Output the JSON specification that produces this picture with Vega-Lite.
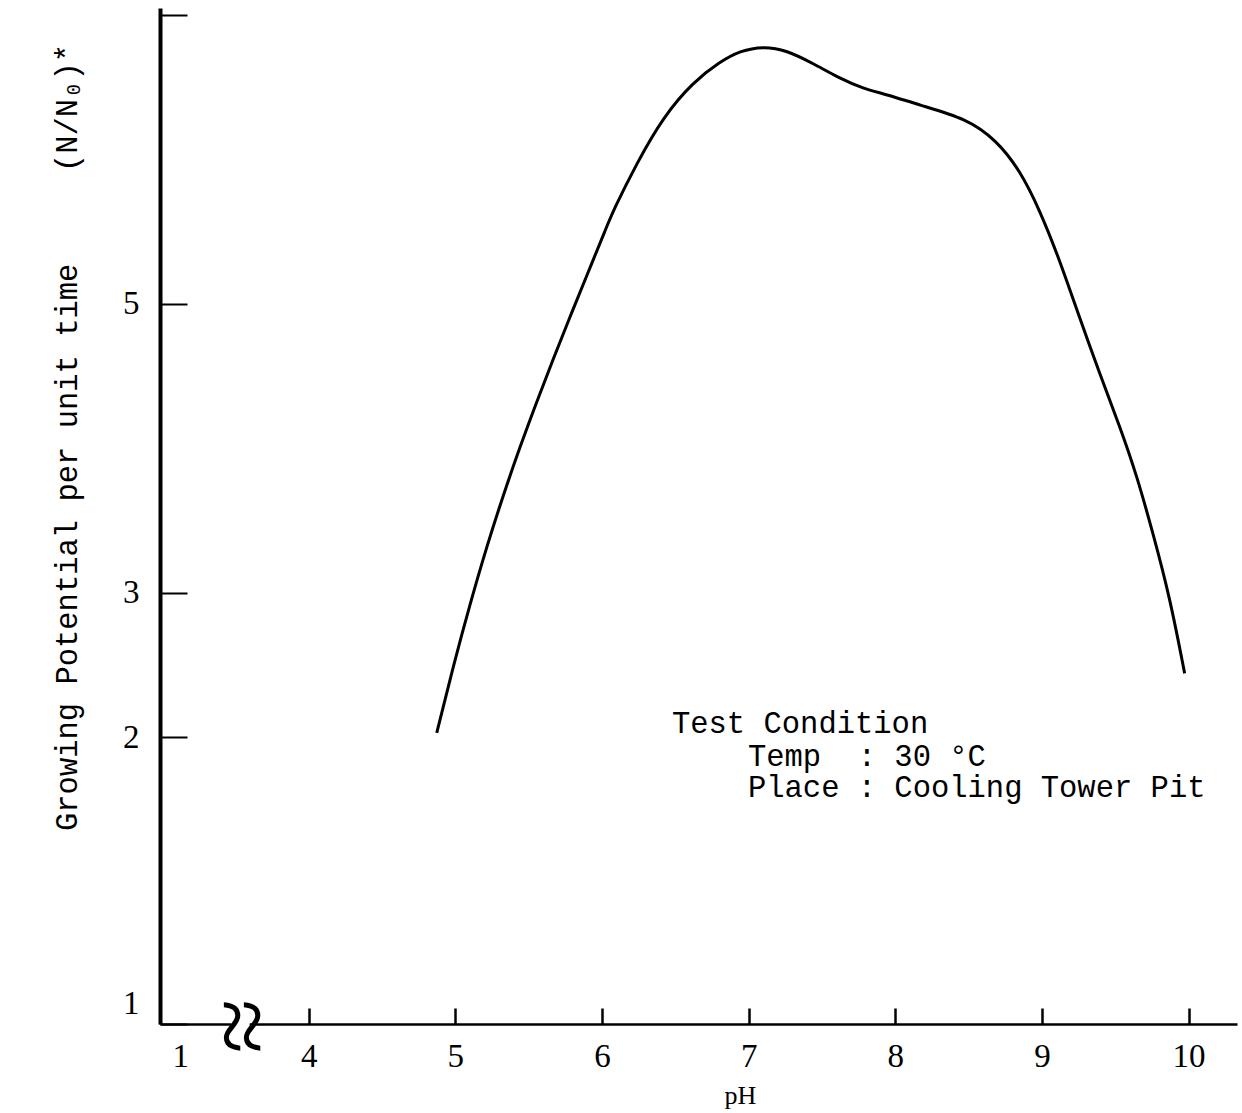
{
  "$schema": "https://vega.github.io/schema/vega-lite/v6.json",
  "width": 1077,
  "height": 1016,
  "autosize": {"type": "none"},
  "padding": {"left": 160, "top": 8, "right": 5, "bottom": 89},
  "background": "white",
  "config": {"view": {"stroke": null}},
  "layer": [
    {
      "data": {"values": [
        {"pH": 4.873, "growth": 2.028},
        {"pH": 4.986, "growth": 2.492},
        {"pH": 5.100, "growth": 2.921},
        {"pH": 5.213, "growth": 3.316},
        {"pH": 5.327, "growth": 3.676},
        {"pH": 5.440, "growth": 4.008},
        {"pH": 5.554, "growth": 4.320},
        {"pH": 5.667, "growth": 4.618},
        {"pH": 5.781, "growth": 4.909},
        {"pH": 5.895, "growth": 5.193},
        {"pH": 6.031, "growth": 5.532},
        {"pH": 6.076, "growth": 5.645},
        {"pH": 6.236, "growth": 5.973},
        {"pH": 6.417, "growth": 6.296},
        {"pH": 6.622, "growth": 6.538},
        {"pH": 6.804, "growth": 6.677},
        {"pH": 6.940, "growth": 6.753},
        {"pH": 7.099, "growth": 6.785},
        {"pH": 7.258, "growth": 6.758},
        {"pH": 7.440, "growth": 6.666},
        {"pH": 7.622, "growth": 6.562},
        {"pH": 7.780, "growth": 6.492},
        {"pH": 7.940, "growth": 6.451},
        {"pH": 8.167, "growth": 6.377},
        {"pH": 8.485, "growth": 6.285},
        {"pH": 8.690, "growth": 6.134},
        {"pH": 8.849, "growth": 5.927},
        {"pH": 8.985, "growth": 5.650},
        {"pH": 9.121, "growth": 5.303},
        {"pH": 9.246, "growth": 4.934},
        {"pH": 9.393, "growth": 4.519},
        {"pH": 9.530, "growth": 4.154},
        {"pH": 9.646, "growth": 3.814},
        {"pH": 9.757, "growth": 3.411},
        {"pH": 9.871, "growth": 2.972},
        {"pH": 9.973, "growth": 2.441}
      ]},
      "mark": {"type": "line", "interpolate": "basis", "color": "black", "strokeWidth": 3},
      "encoding": {
        "x": {
          "field": "pH", "type": "quantitative",
          "scale": {"type": "linear", "domain": [1, 4, 10.33], "range": [0, 148.7, 1077], "nice": false, "zero": false},
          "axis": {
            "title": "pH",
            "titleFont": "Liberation Serif", "titleFontSize": 26, "titleFontWeight": "normal", "titleColor": "black",
            "titleX": 580, "titleY": 71, "titleBaseline": "middle", "titleAlign": "center",
            "values": [1, 4, 5, 6, 7, 8, 9, 10],
            "format": "d",
            "grid": false,
            "domainColor": "black", "domainWidth": 2.5,
            "tickColor": "black", "tickWidth": 2.5, "tickSize": -16,
            "labelFont": "Liberation Serif", "labelFontSize": 33, "labelColor": "black",
            "labelPadding": 32, "labelBaseline": "top",
            "labelOffset": {"condition": {"test": "datum.value == 1", "value": 12}, "value": 0}
          }
        },
        "y": {
          "field": "growth", "type": "quantitative",
          "scale": {"type": "linear", "domain": [1, 2, 7.05], "range": [1016, 729, 0], "nice": false, "zero": false},
          "axis": {
            "title": "Growing Potential per unit time\u00a0\u00a0\u00a0\u00a0\u00a0(N/N\u2080)*",
            "titleFont": "Liberation Mono", "titleFontSize": 30.5, "titleFontWeight": "normal", "titleColor": "black",
            "titleAngle": 270, "titleX": -93, "titleY": 429, "titleBaseline": "middle", "titleAlign": "center",
            "values": [1, 2, 3, 5, 7],
            "format": "d",
            "labelExpr": "datum.value == 7 ? '' : datum.label",
            "grid": false,
            "domainColor": "black", "domainWidth": 4,
            "tickColor": "black", "tickWidth": 2, "tickSize": -27,
            "labelFont": "Liberation Serif", "labelFontSize": 33, "labelColor": "black",
            "labelPadding": 48,
            "labelOffset": {"condition": {"test": "datum.value == 1", "value": -21}, "value": 0}
          }
        }
      }
    },
    {
      "data": {"values": [{"pH": 2.62, "growth": 1}]},
      "mark": {"type": "point", "shape": "square", "filled": true, "color": "white", "opacity": 1, "size": 350},
      "encoding": {
        "x": {"field": "pH", "type": "quantitative"},
        "y": {"field": "growth", "type": "quantitative"}
      }
    },
    {
      "data": {"values": [{"pH": 2.59, "growth": 0.99, "label": "\u2248"}]},
      "mark": {"type": "text", "font": "Liberation Serif", "fontSize": 100, "angle": 90, "align": "center", "baseline": "middle", "color": "black"},
      "encoding": {
        "x": {"field": "pH", "type": "quantitative"},
        "y": {"field": "growth", "type": "quantitative"},
        "text": {"field": "label"}
      }
    },
    {
      "data": {"values": [
        {"pH": 6.477, "growth": 2.03, "label": "Test Condition"},
        {"pH": 6.995, "growth": 1.899, "label": "Temp\u00a0\u00a0: 30 \u00b0C"},
        {"pH": 6.995, "growth": 1.791, "label": "Place : Cooling Tower Pit"}
      ]},
      "mark": {"type": "text", "font": "Liberation Mono", "fontSize": 30.5, "align": "left", "baseline": "alphabetic", "color": "black"},
      "encoding": {
        "x": {"field": "pH", "type": "quantitative"},
        "y": {"field": "growth", "type": "quantitative"},
        "text": {"field": "label"}
      }
    }
  ]
}
